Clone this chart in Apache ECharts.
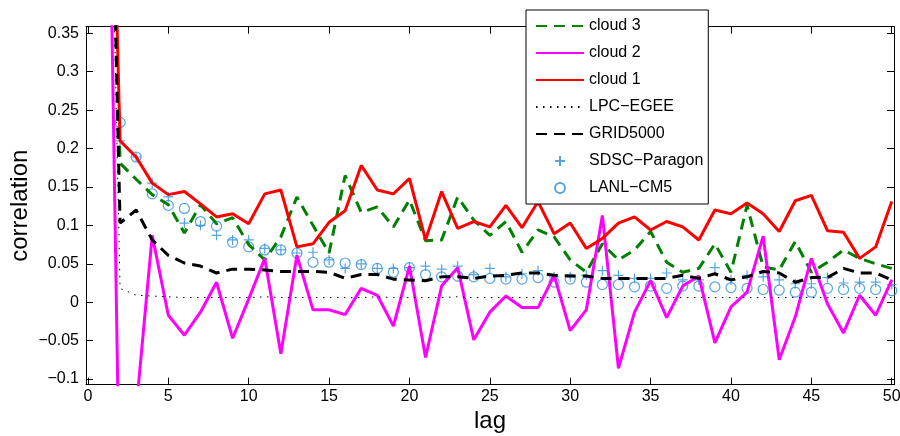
<!DOCTYPE html>
<html><head><meta charset="utf-8">
<script src="https://cdn.jsdelivr.net/npm/echarts@6/dist/echarts.min.js"></script>
<style>html,body{margin:0;padding:0;background:#fff}#c{width:900px;height:436px}</style>
</head><body><div id="c"></div>
<script>
const lags = [1,2,3,4,5,6,7,8,9,10,11,12,13,14,15,16,17,18,19,20,21,22,23,24,25,26,27,28,29,30,31,32,33,34,35,36,37,38,39,40,41,42,43,44,45,46,47,48,49,50];
const cloud3 = [1,0.181,0.16,0.14,0.127,0.09,0.127,0.102,0.11,0.075,0.055,0.085,0.137,0.1,0.064,0.165,0.117,0.124,0.098,0.133,0.08,0.081,0.137,0.107,0.087,0.105,0.065,0.094,0.085,0.055,0.039,0.076,0.055,0.068,0.092,0.052,0.039,0.044,0.076,0.039,0.126,0.046,0.042,0.079,0.039,0.052,0.068,0.057,0.05,0.044];
const cloud2 = [1,-0.3,-0.14,0.087,-0.017,-0.043,-0.013,0.026,-0.047,0.004,0.057,-0.067,0.061,-0.010,-0.01,-0.016,0.018,0.009,-0.031,0.047,-0.072,0.021,0.045,-0.049,-0.013,0.008,-0.007,-0.007,0.035,-0.037,-0.01,0.113,-0.086,-0.013,0.028,-0.02,0.021,0.034,-0.053,-0.006,0.013,0.086,-0.075,-0.019,0.057,-0.002,-0.04,0.009,-0.017,0.029];
const cloud1 = [1,0.21,0.189,0.155,0.14,0.144,0.128,0.111,0.115,0.102,0.141,0.146,0.072,0.076,0.104,0.119,0.178,0.146,0.141,0.161,0.081,0.144,0.096,0.105,0.098,0.126,0.097,0.131,0.089,0.103,0.07,0.083,0.103,0.111,0.094,0.105,0.098,0.081,0.12,0.115,0.129,0.115,0.092,0.132,0.139,0.093,0.091,0.057,0.072,0.131];
const lpcEgee = [1,0.018,0.009,0.008,0.007,0.006,0.006,0.006,0.006,0.006,0.007,0.006,0.006,0.006,0.006,0.006,0.006,0.007,0.006,0.006,0.006,0.006,0.007,0.006,0.006,0.006,0.006,0.006,0.006,0.006,0.006,0.006,0.006,0.006,0.006,0.006,0.006,0.006,0.006,0.006,0.006,0.006,0.006,0.006,0.006,0.006,0.006,0.006,0.006,0.006];
const grid5000 = [1,0.103,0.12,0.081,0.061,0.051,0.047,0.038,0.043,0.043,0.042,0.04,0.04,0.04,0.039,0.031,0.036,0.036,0.03,0.029,0.028,0.033,0.033,0.031,0.034,0.035,0.038,0.038,0.035,0.034,0.034,0.031,0.031,0.031,0.031,0.031,0.035,0.031,0.037,0.029,0.033,0.04,0.038,0.026,0.032,0.032,0.044,0.038,0.038,0.029];
const sdscParagon = [1,0.21,0.189,0.155,0.137,0.103,0.1,0.087,0.081,0.081,0.07,0.068,0.064,0.065,0.055,0.044,0.05,0.044,0.044,0.045,0.047,0.043,0.047,0.036,0.044,0.033,0.037,0.041,0.033,0.033,0.035,0.041,0.035,0.031,0.031,0.038,0.029,0.029,0.045,0.029,0.035,0.033,0.029,0.024,0.024,0.032,0.025,0.026,0.026,0.023];
const lanlCm5 = [1,0.234,0.189,0.141,0.126,0.122,0.105,0.099,0.078,0.072,0.068,0.068,0.064,0.052,0.052,0.051,0.049,0.044,0.039,0.045,0.036,0.033,0.034,0.033,0.031,0.03,0.03,0.032,0.026,0.03,0.026,0.023,0.023,0.02,0.021,0.018,0.021,0.021,0.02,0.019,0.018,0.0165,0.0156,0.013,0.013,0.018,0.0165,0.018,0.0165,0.015];
const xTicks = [0,5,10,15,20,25,30,35,40,45,50];
const yTicks = [-0.1,-0.05,0,0.05,0.1,0.15,0.2,0.25,0.3,0.35];
const seriesNames = ['cloud 3','cloud 2','cloud 1','LPC\u2212EGEE','GRID5000','SDSC\u2212Paragon','LANL\u2212CM5'];

const FONT = '"Liberation Sans", Arial, Helvetica, sans-serif';
const XMIN = -0.12, XMAX = 50.14, YMIN = -0.1074, YMAX = 0.3586;
const BLUE = '#2a8fdc';
const pair = arr => lags.map((l, i) => [l, arr[i]]);
const fmtY = v => (v < 0 ? '\u2212' + String(Math.abs(v)) : String(v));

const chart = echarts.init(document.getElementById('c'), null, {renderer: 'canvas'});
const axLine = {onZero: false, lineStyle: {color: '#000', width: 1}};
const tickStyle = {color: '#000', width: 1};
const legendData = seriesNames.map((n, i) => (i < 5 ? {name: n, itemStyle: {opacity: 0}} : {name: n}));
chart.setOption({
  animation: false,
  backgroundColor: '#fff',
  grid: {left: 86, right: 6, top: 26.7, bottom: 51.3, show: false, containLabel: false, outerBoundsMode: 'none'},
  xAxis: [{
    type: 'value', min: XMIN, max: XMAX, position: 'bottom',
    axisLine: axLine,
    axisTick: {inside: true, length: 7, customValues: xTicks, lineStyle: tickStyle},
    axisLabel: {customValues: xTicks, fontSize: 16, color: '#000', margin: 4, fontFamily: FONT},
    splitLine: {show: false},
    name: 'lag', nameLocation: 'middle', nameGap: 24,
    nameTextStyle: {fontSize: 24, color: '#000', fontFamily: FONT}
  }, {
    type: 'value', min: XMIN, max: XMAX, position: 'top',
    axisLine: axLine,
    axisTick: {inside: true, length: 7, customValues: xTicks, lineStyle: tickStyle},
    axisLabel: {show: false}, splitLine: {show: false}
  }],
  yAxis: [{
    type: 'value', min: YMIN, max: YMAX, position: 'left',
    axisLine: axLine,
    axisTick: {inside: true, length: 7, customValues: yTicks, lineStyle: tickStyle},
    axisLabel: {customValues: yTicks, fontSize: 16, color: '#000', margin: 7, fontFamily: FONT, formatter: fmtY},
    splitLine: {show: false},
    name: 'correlation', nameLocation: 'middle', nameGap: 54, nameRotate: 90, nameMoveOverlap: false,
    nameTextStyle: {fontSize: 24, color: '#000', fontFamily: FONT}
  }, {
    type: 'value', min: YMIN, max: YMAX, position: 'right',
    axisLine: axLine,
    axisTick: {inside: true, length: 7, customValues: yTicks, lineStyle: tickStyle},
    axisLabel: {show: false}, splitLine: {show: false}
  }],
  legend: {
    orient: 'vertical', left: 526, top: 10, padding: [8, 5, 8, 9],
    itemWidth: 48, itemHeight: 10, itemGap: 11,
    backgroundColor: '#fff', borderColor: '#000', borderWidth: 1, borderRadius: 0,
    textStyle: {fontSize: 16, color: '#000', fontFamily: FONT},
    data: legendData, selectedMode: false
  },
  series: [
    {type: 'line', name: seriesNames[0], data: pair(cloud3), symbol: 'none', clip: true,
     lineStyle: {color: '#008000', width: 3, type: [11, 7]}, itemStyle: {color: '#008000'}},
    {type: 'line', name: seriesNames[1], data: pair(cloud2), symbol: 'none', clip: true,
     lineStyle: {color: '#ff00ff', width: 3}, itemStyle: {color: '#ff00ff'}},
    {type: 'line', name: seriesNames[2], data: pair(cloud1), symbol: 'none', clip: true,
     lineStyle: {color: '#ff0000', width: 3}, itemStyle: {color: '#ff0000'}},
    {type: 'line', name: seriesNames[3], data: pair(lpcEgee), symbol: 'none', clip: true,
     lineStyle: {color: '#000', width: 1, type: [1.5, 5.5]}, itemStyle: {color: '#000'}},
    {type: 'line', name: seriesNames[4], data: pair(grid5000), symbol: 'none', clip: true,
     lineStyle: {color: '#000', width: 3, type: [11, 7]}, itemStyle: {color: '#000'}},
    {type: 'scatter', name: seriesNames[5], data: pair(sdscParagon), clip: true,
     symbol: 'path://M5,0L5,10M0,5L10,5', symbolSize: 10,
     itemStyle: {color: 'none', borderColor: BLUE, borderWidth: 1.2}},
    {type: 'scatter', name: seriesNames[6], data: pair(lanlCm5), clip: true,
     symbol: 'circle', symbolSize: 10,
     itemStyle: {color: 'none', borderColor: BLUE, borderWidth: 1.2}}
  ]
});
</script>
</body></html>
